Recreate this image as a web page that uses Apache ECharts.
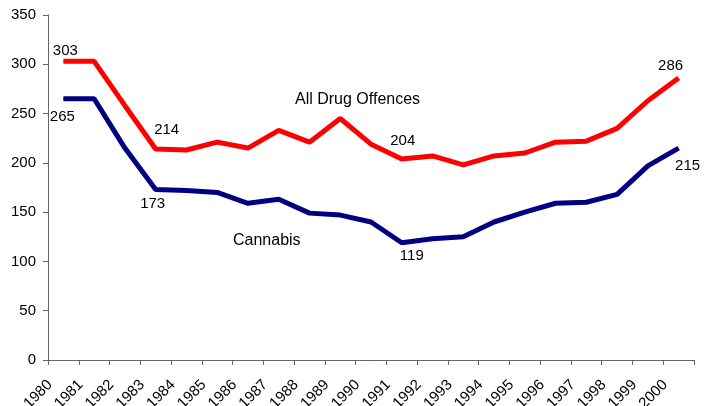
<!DOCTYPE html>
<html><head><meta charset="utf-8">
<script src="https://cdn.jsdelivr.net/npm/echarts@6/dist/echarts.min.js"></script>
<style>html,body{margin:0;padding:0;background:#fff}#c{width:713px;height:406px}</style>
</head><body><div id="c"></div>
<script>
var years = ['1980','1981','1982','1983','1984','1985','1986','1987','1988','1989','1990','1991','1992','1993','1994','1995','1996','1997','1998','1999','2000'];
var allDrugOffences = [303,303,258,214,213,221,215,233,221,245,219,204,207,198,207,210,221,222,235,263,286];
var cannabis = [265,265,215,173,172,170,159,163,149,147,140,119,123,125,140,150,159,160,168,197,215];
var yTicks = [0,50,100,150,200,250,300,350];
var labelledIdx = [0,3,11,20];
var redLabelOffsets = {0:[2,-10],3:[11,-19],11:[1,-18],20:[-8,-12]};
var blueLabelOffsets = {0:[-1,18],3:[-3,14],11:[10,13],20:[9,18]};

var font = 'Arial, "Liberation Sans", sans-serif';
function buildData(vals, offs){
  return vals.map(function(v,i){
    var o = {value:v};
    if (labelledIdx.indexOf(i) >= 0){
      o.label = {show:true, position:'inside', offset:offs[i], formatter:String(v),
                 color:'#000', fontSize:15, fontFamily:font};
    }
    return o;
  });
}
var chart = echarts.init(document.getElementById('c'), null, {renderer:'canvas'});
chart.setOption({
  animation:false,
  grid:{left:48, right:19, top:15, bottom:46, containLabel:false, outerBoundsMode:'none'},
  xAxis:{type:'category', data:years, boundaryGap:true,
    axisLine:{lineStyle:{color:'#666', width:1}},
    axisTick:{show:true, length:5, lineStyle:{color:'#666'}},
    axisLabel:{rotate:45, interval:0, margin:9, padding:[0,19,0,0], color:'#000', fontSize:15, fontFamily:font}},
  yAxis:{type:'value', min:yTicks[0], max:yTicks[yTicks.length-1], interval:50,
    axisLine:{show:true, lineStyle:{color:'#666', width:1}},
    axisTick:{show:true, length:5, lineStyle:{color:'#666'}},
    splitLine:{show:false},
    axisLabel:{margin:12, color:'#000', fontSize:15, fontFamily:font}},
  series:[
    {name:'All Drug Offences', type:'line', data:buildData(allDrugOffences, redLabelOffsets),
     symbol:'circle', symbolSize:1, showSymbol:true, itemStyle:{color:'#FF0000'},
     lineStyle:{color:'#FF0000', width:5}, z:3},
    {name:'Cannabis', type:'line', data:buildData(cannabis, blueLabelOffsets),
     symbol:'circle', symbolSize:1, showSymbol:true, itemStyle:{color:'#000080'},
     lineStyle:{color:'#000080', width:5}, z:2}
  ],
  graphic:[
    {type:'text', left:295, top:92, style:{text:'All Drug Offences', fill:'#000', font:'16px '+font}},
    {type:'text', left:233, top:233, style:{text:'Cannabis', fill:'#000', font:'16px '+font}}
  ]
});
</script></body></html>
